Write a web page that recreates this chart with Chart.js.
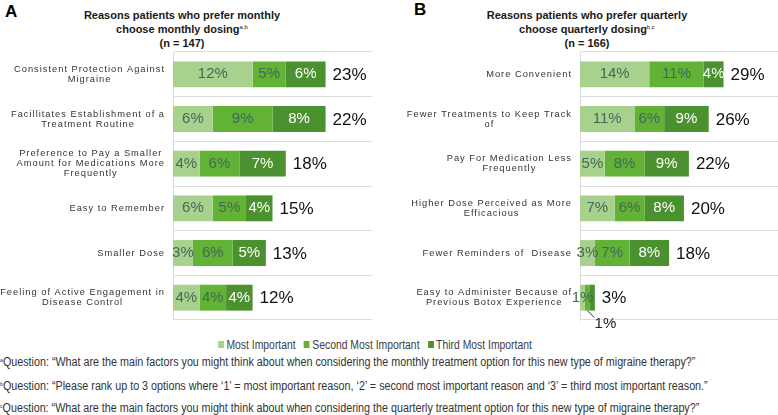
<!DOCTYPE html>
<html>
<head>
<meta charset="utf-8">
<script src="https://cdn.jsdelivr.net/npm/chart.js@4.4.1/dist/chart.umd.min.js"></script>
<style>
    body { margin: 0; background: #fff; font-family: "Liberation Sans", Arial, sans-serif; }
    #wrap { position: relative; width: 778px; height: 415px; overflow: hidden; }
    .panel { position: absolute; font-weight: bold; font-size: 17px; color: #000; }
    .title { position: absolute; text-align: center; font-weight: bold; font-size: 11px; line-height: 14px; color: #1a1a1a; }
    .title sup, .note sup { font-size: 6px; vertical-align: 4px; font-weight: normal; line-height: 0; }
    canvas { position: absolute; top: 0; }
    #legend { position: absolute; top: 338px; left: 375px; white-space: nowrap;
              transform: translateX(-50%) scaleX(0.83); font-size: 12.5px; color: #404040; }
    #legend span.item { margin: 0 5px; }
    #legend i { display: inline-block; width: 7px; height: 7px; margin-right: 3px; vertical-align: 1px; }
    .note { position: absolute; left: 0; transform-origin: 0 0; transform: scaleX(0.86);
            font-size: 12.5px; color: #333; white-space: nowrap; }
</style>
</head>
<body>
<div id="wrap">
    <div class="panel" style="left:5px; top:2px;">A</div>
    <div class="panel" style="left:414px; top:0px;">B</div>
    <div class="title" style="left:62px; width:240px; top:8px;">Reasons patients who prefer monthly<br>choose monthly dosing<sup>a,b</sup><br>(n = 147)</div>
    <div class="title" style="left:467px; width:240px; top:8px;">Reasons patients who prefer quarterly<br>choose quarterly dosing<sup>b,c</sup><br>(n = 166)</div>
    <canvas id="chartA" width="389" height="330" style="left:0;"></canvas>
    <canvas id="chartB" width="389" height="330" style="left:389px;"></canvas>
    <div id="legend"></div>
    <div class="note" style="top:355px;"><sup>a</sup>Question: “What are the main factors you might think about when considering the monthly treatment option for this new type of migraine therapy?”</div>
    <div class="note" style="top:379px;"><sup>b</sup>Question: “Please rank up to 3 options where ‘1’ = most important reason, ‘2’ = second most important reason and ‘3’ = third most important reason.”</div>
    <div class="note" style="top:401px;"><sup>c</sup>Question: “What are the main factors you might think about when considering the quarterly treatment option for this new type of migraine therapy?”</div>
</div>
<script>
const seriesNames = ['Most Important', 'Second Most Important', 'Third Most Important'];
const seriesColors = ['#a9d18e', '#62b236', '#4b9130'];

// Panel A - monthly
const monthlyCategories = [
    ['Consistent Protection Against', 'Migraine'],
    ['Facillitates Establishment of a', 'Treatment Routine'],
    ['Preference to Pay a Smaller', 'Amount for Medications More', 'Frequently'],
    ['Easy to Remember'],
    ['Smaller Dose'],
    ['Feeling of Active Engagement in', 'Disease Control']
];
const monthlyMost = [12, 6, 4, 6, 3, 4];
const monthlySecond = [5, 9, 6, 5, 6, 4];
const monthlyThird = [6, 8, 7, 4, 5, 4];
const monthlyTotals = [23, 22, 18, 15, 13, 12];

// Panel B - quarterly
const quarterlyCategories = [
    ['More Convenient'],
    ['Fewer Treatments to Keep Track', 'of'],
    ['Pay For Medication Less', 'Frequently'],
    ['Higher Dose Perceived as More', 'Efficacious'],
    ['Fewer Reminders of  Disease'],
    ['Easy to Administer Because of', 'Previous Botox Experience']
];
const quarterlyMost = [14, 11, 5, 7, 3, 1];
const quarterlySecond = [11, 6, 8, 6, 7, 1];
const quarterlyThird = [4, 9, 9, 8, 8, 1];
const quarterlyTotals = [29, 26, 22, 20, 18, 3];

// legend
const legendEl = document.getElementById('legend');
seriesNames.forEach(function(name, i) {
    legendEl.innerHTML += '<span class="item"><i style="background:' + seriesColors[i] + '"></i>' + name + '</span>';
});

// category labels, letter spaced, lines centred in a right aligned block
const categoryLabels = {
    id: 'categoryLabels',
    afterDraw: function(chart) {
        const ctx = chart.ctx;
        const yScale = chart.scales.y;
        const right = chart.chartArea.left - 8;
        ctx.save();
        ctx.font = '9.3px "Liberation Sans", Arial, sans-serif';
        ctx.letterSpacing = '1px';
        ctx.fillStyle = '#333333';
        ctx.textAlign = 'center';
        ctx.textBaseline = 'middle';
        chart.data.labels.forEach(function(lines, i) {
            let w = 0;
            lines.forEach(function(l) { w = Math.max(w, ctx.measureText(l).width); });
            const cx = right - w / 2;
            const cy = yScale.getPixelForValue(i);
            lines.forEach(function(l, k) {
                ctx.fillText(l, cx, cy + (k - (lines.length - 1) / 2) * 10);
            });
        });
        ctx.restore();
    }
};

// value labels inside segments and totals after bars
const valueLabels = {
    id: 'valueLabels',
    afterDatasetsDraw: function(chart, args, opts) {
        const ctx = chart.ctx;
        ctx.save();
        ctx.textBaseline = 'middle';
        chart.data.datasets.forEach(function(ds, d) {
            const meta = chart.getDatasetMeta(d);
            meta.data.forEach(function(bar, i) {
                const w = Math.abs(bar.x - bar.base);
                const cx = (bar.x + bar.base) / 2;
                ctx.font = '15px "Liberation Sans", Arial, sans-serif';
                ctx.textAlign = 'center';
                ctx.fillStyle = d === 2 ? '#ffffff' : '#40695a';
                if (w < 8) {
                    if (d === 0) {
                        ctx.fillText(ds.data[i] + '%', cx, bar.y);
                    } else if (d === 1) {
                        ctx.strokeStyle = '#333';
                        ctx.lineWidth = 1;
                        ctx.beginPath();
                        ctx.moveTo(cx, bar.y + 13);
                        ctx.lineTo(cx + 7, bar.y + 20);
                        ctx.stroke();
                        ctx.fillStyle = '#222';
                        ctx.fillText(ds.data[i] + '%', cx + 18, bar.y + 26);
                    }
                    return;
                }
                ctx.fillText(ds.data[i] + '%', cx, bar.y);
            });
        });
        const last = chart.getDatasetMeta(2);
        ctx.font = '17px "Liberation Sans", Arial, sans-serif';
        ctx.textAlign = 'left';
        ctx.fillStyle = '#111';
        last.data.forEach(function(bar, i) {
            ctx.fillText(opts.totals[i] + '%', bar.x + 7, bar.y + 1);
        });
        ctx.restore();
    }
};

function makeChart(id, labels, most, second, third, totals, xMax, padLeft, padRight) {
    const values = [most, second, third];
    new Chart(document.getElementById(id), {
        type: 'bar',
        data: {
            labels: labels,
            datasets: values.map(function(v, i) {
                return {
                    label: seriesNames[i],
                    data: v,
                    backgroundColor: seriesColors[i],
                    barPercentage: 1,
                    categoryPercentage: 0.58
                };
            })
        },
        options: {
            indexAxis: 'y',
            responsive: false,
            animation: false,
            layout: { padding: { left: padLeft, right: padRight, top: 52, bottom: 10 } },
            plugins: {
                legend: { display: false },
                tooltip: { enabled: false },
                valueLabels: { totals: totals }
            },
            scales: {
                x: { stacked: true, min: 0, max: xMax, display: false },
                y: {
                    stacked: true,
                    ticks: { display: false },
                    grid: { color: '#dcdcdc', drawTicks: false, offset: true },
                    border: { color: '#dcdcdc' },
                    afterFit: function(s) { s.width = 0; }
                }
            }
        },
        plugins: [categoryLabels, valueLabels]
    });
}

makeChart('chartA', monthlyCategories, monthlyMost, monthlySecond, monthlyThird, monthlyTotals, 30, 173, 17);
makeChart('chartB', quarterlyCategories, quarterlyMost, quarterlySecond, quarterlyThird, quarterlyTotals, 40, 191, 0);
</script>
</body>
</html>
